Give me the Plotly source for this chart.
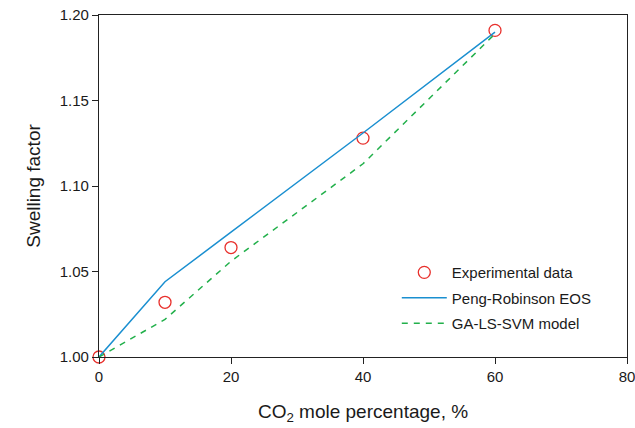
import plotly.graph_objects as go

exp_x = [0, 10, 20, 40, 60]
exp_y = [1.000, 1.032, 1.064, 1.128, 1.191]

pr_x = [0, 10, 20, 40, 60]
pr_y = [1.000, 1.044, 1.073, 1.131, 1.190]

svm_x = [0, 10, 20, 40, 60]
svm_y = [1.000, 1.022, 1.056, 1.113, 1.189]

font_family = "Liberation Sans, Arial, sans-serif"

fig = go.Figure()
fig.add_trace(go.Scatter(x=exp_x, y=exp_y, mode="markers", name="Experimental data",
                         legendgroup="a",
                         marker=dict(symbol="circle-open", size=12, color="#e8302c",
                                     line=dict(width=1.3, color="#e8302c")),
                         cliponaxis=False))
fig.add_trace(go.Scatter(x=pr_x, y=pr_y, mode="lines", name="Peng-Robinson EOS",
                         legendgroup="b",
                         line=dict(color="#1a8fd0", width=1.5)))
fig.add_trace(go.Scatter(x=svm_x, y=svm_y, mode="lines", name="GA-LS-SVM model",
                         legendgroup="c",
                         line=dict(color="#22b04b", width=1.5, dash="6px,6px")))

fig.update_layout(
    width=635, height=428,
    margin=dict(l=99, r=8, t=15, b=71, autoexpand=False),
    paper_bgcolor="white", plot_bgcolor="white",
    font=dict(family=font_family, size=15, color="#1a1a1a"),
    showlegend=True,
    legend=dict(x=0.564, y=0.295, xanchor="left", yanchor="top",
                bgcolor="rgba(0,0,0,0)", font=dict(size=15, color="#1a1a1a"),
                itemwidth=45, tracegroupgap=3),
    xaxis=dict(range=[0, 80], tickvals=[0, 20, 40, 60, 80], showgrid=False, zeroline=False,
               automargin=False, ticklabeloverflow="allow",
               showline=True, linecolor="#222222", linewidth=1.2, mirror=True,
               ticks="outside", ticklen=6, tickcolor="#222222",
               title=dict(text="CO<sub>2</sub> mole percentage, %", font=dict(size=19), standoff=20)),
    yaxis=dict(range=[1.0, 1.2], tickvals=[1.00, 1.05, 1.10, 1.15, 1.20], tickformat=".2f",
               showgrid=False, zeroline=False, automargin=False, ticklabeloverflow="allow",
               showline=True, linecolor="#222222", linewidth=1.2, mirror=True,
               ticks="outside", ticklen=6, tickcolor="#222222",
               title=dict(text="Swelling factor", font=dict(size=19), standoff=14)),
)

fig.write_html("out.html")
